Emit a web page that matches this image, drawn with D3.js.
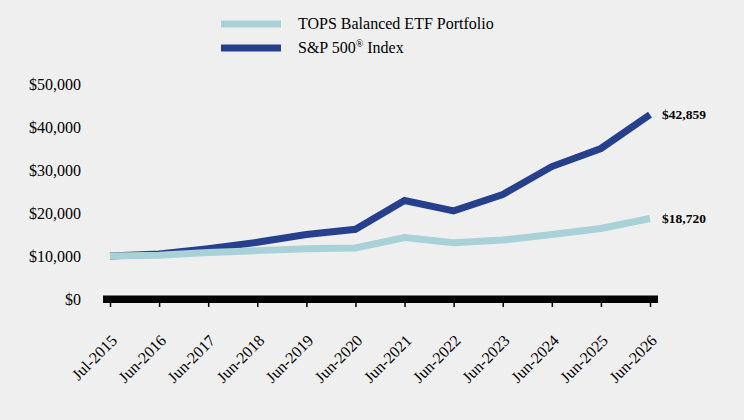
<!DOCTYPE html>
<html>
<head>
<meta charset="utf-8">
<script src="https://cdn.jsdelivr.net/npm/d3@7"></script>
<style>
  body { margin: 0; background: #efefef; }
  svg { display: block; font-family: "Liberation Serif", "Times New Roman", serif; }
</style>
</head>
<body>
<svg id="chart" width="744" height="420"></svg>
<script>
const dates = ['Jul-2015', 'Jun-2016', 'Jun-2017', 'Jun-2018', 'Jun-2019', 'Jun-2020',
               'Jun-2021', 'Jun-2022', 'Jun-2023', 'Jun-2024', 'Jun-2025', 'Jun-2026'];
const topsValues = [10000, 10150, 10800, 11250, 11700, 11850, 14300, 13100, 13700, 15000, 16400, 18720];
const spValues = [10000, 10450, 11700, 13200, 15000, 16200, 22900, 20500, 24300, 30800, 35000, 42859];
const yTicks = [0, 10000, 20000, 30000, 40000, 50000];

const seriesList = [
    { name: 'TOPS Balanced ETF Portfolio', values: topsValues, color: '#a8d2d8' },
    { name: 'S&P 500', sup: '®', after: ' Index', values: spValues, color: '#27408e' }
];

const svg = d3.select('#chart');

const x = d3.scalePoint().domain(dates).range([110, 650]);
const y = d3.scaleLinear().domain([0, 50000]).range([299, 84]);

// y axis labels only
const yAxis = svg.append('g')
    .attr('transform', 'translate(81,0)')
    .call(d3.axisLeft(y).tickValues(yTicks).tickSize(0).tickPadding(0)
        .tickFormat(d => '$' + d3.format(',')(d)));
yAxis.select('.domain').remove();
yAxis.selectAll('text')
    .attr('font-family', '"Liberation Serif", serif')
    .attr('font-size', '16px')
    .attr('fill', '#000');

// x axis: thick black bar plus small ticks
svg.append('rect')
    .attr('x', x.range()[0] - 7)
    .attr('y', y(0) - 3.5)
    .attr('width', x.range()[1] - x.range()[0] + 15)
    .attr('height', 7.5)
    .attr('fill', '#000');

const xAxis = svg.append('g')
    .attr('transform', `translate(0,${y(0) + 3})`)
    .call(d3.axisBottom(x).tickSize(5).tickPadding(0));
xAxis.select('.domain').remove();
xAxis.selectAll('.tick line').attr('stroke', '#000').attr('stroke-width', 1.5);
xAxis.selectAll('text')
    .attr('font-family', '"Liberation Serif", serif')
    .attr('font-size', '16px')
    .attr('fill', '#000')
    .attr('text-anchor', 'end')
    .attr('dy', 0)
    .attr('transform', 'translate(4,36) rotate(-45)');

// lines (index first so the portfolio line sits on top)
const line = d3.line()
    .x((d, i) => x(dates[i]))
    .y(d => y(d));

seriesList.slice().reverse().forEach(s => {
    svg.append('path')
        .datum(s.values)
        .attr('fill', 'none')
        .attr('stroke', s.color)
        .attr('stroke-width', 7)
        .attr('stroke-linejoin', 'miter')
        .attr('d', line);
});

// end labels
seriesList.forEach(s => {
    const last = s.values[s.values.length - 1];
    svg.append('text')
        .attr('x', x(dates[dates.length - 1]) + 12)
        .attr('y', y(last) + 4)
        .attr('font-size', '13.5px')
        .attr('font-weight', 'bold')
        .attr('fill', '#000')
        .text('$' + d3.format(',')(last));
});

// legend
const legend = svg.append('g');
seriesList.forEach((s, i) => {
    const ly = 24 + i * 24;
    legend.append('rect')
        .attr('x', 221).attr('y', ly - 3.5)
        .attr('width', 60).attr('height', 7)
        .attr('fill', s.color);
    const t = legend.append('text')
        .attr('x', 298).attr('y', ly + 5)
        .attr('font-size', '16px')
        .attr('fill', '#000')
        .text(s.name);
    if (s.sup) {
        t.append('tspan').attr('font-size', '10px').attr('dy', -6).text(s.sup);
        t.append('tspan').attr('dy', 6).text(s.after);
    }
});
</script>
</body>
</html>
